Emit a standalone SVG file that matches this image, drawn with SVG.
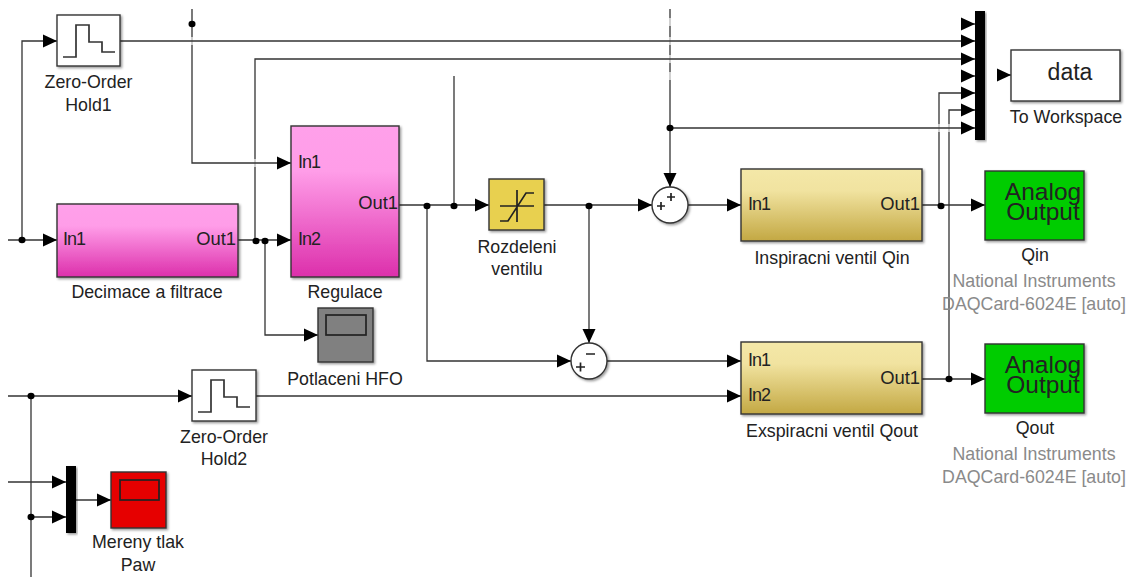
<svg xmlns="http://www.w3.org/2000/svg" width="1135" height="577" viewBox="0 0 1135 577">
<style>
text{font-family:"Liberation Sans",Arial,sans-serif;font-size:17.8px;fill:#222;text-anchor:middle}
.port{text-anchor:start;font-size:18px;letter-spacing:-1px}
.out{text-anchor:end;font-size:18.4px}
.grey{fill:#8a8a8a}
.w{fill:none;stroke:#333;stroke-width:1.3}
.b{stroke:#333;stroke-width:1.4;filter:url(#sh)}
.ic{fill:none;stroke:#222;stroke-width:1.7}
.big{font-size:24.5px}
.gap{fill:#fff;fill-opacity:.65;stroke:none}
</style>
<defs>
<filter id="sh" x="-10%" y="-10%" width="125%" height="125%"><feDropShadow dx="1.5" dy="1.5" stdDeviation="1" flood-color="#000" flood-opacity=".4"/></filter>
<linearGradient id="mag" x1="0" y1="0" x2="0" y2="1"><stop offset="0" stop-color="#ffa0ea"/><stop offset=".3" stop-color="#ff9de8"/><stop offset="1" stop-color="#dc2fab"/></linearGradient>
<linearGradient id="gold" x1="0" y1="0" x2="0" y2="1"><stop offset="0" stop-color="#f4e8a8"/><stop offset=".3" stop-color="#f1e3a0"/><stop offset="1" stop-color="#c3a843"/></linearGradient>
<marker id="a" markerUnits="userSpaceOnUse" markerWidth="14" markerHeight="14" refX="14" refY="7" orient="auto"><path d="M0 0.5L14 7L0 13.5z" fill="#000"/></marker>
<path id="zoh" d="M6 42H19V10H32V27H45V37H58" fill="none" stroke="#333" stroke-width="1.7"/>
</defs>
<g id="connectors" class="w">
<path d="M8 240H57" marker-end="url(#a)"/>
<path d="M22 240V41H57" marker-end="url(#a)"/>
<path d="M670 9V187" marker-end="url(#a)"/>
<path d="M939 205V93H975" marker-end="url(#a)"/>
<path d="M949 379V110H975" marker-end="url(#a)"/>
<rect class="gap" x="667" y="18" width="6" height="8"/><rect class="gap" x="667" y="37" width="6" height="8"/><rect class="gap" x="667" y="55" width="6" height="8"/><rect class="gap" x="667" y="72" width="6" height="8"/><rect class="gap" x="936" y="124" width="6" height="8"/><rect class="gap" x="946" y="124" width="6" height="8"/><rect class="gap" x="28" y="478" width="6" height="8"/>
<path d="M255 240V59H975" marker-end="url(#a)"/>
<rect class="gap" x="252" y="159" width="6" height="8"/>
<path d="M192 9V163H291" marker-end="url(#a)"/>
<rect class="gap" x="189" y="37" width="6" height="8"/>
<path d="M120 41H975" marker-end="url(#a)"/>
<path d="M238 240H291" marker-end="url(#a)"/>
<path d="M265 240V335H318" marker-end="url(#a)"/>
<path d="M399 205H489" marker-end="url(#a)"/>
<path d="M454 76V205"/>
<path d="M427 205V361H571" marker-end="url(#a)"/>
<path d="M544 205H652" marker-end="url(#a)"/>
<path d="M589 205V343" marker-end="url(#a)"/>
<path d="M670 128H975" marker-end="url(#a)"/>
<path d="M688 205H741" marker-end="url(#a)"/>
<path d="M922 205H985" marker-end="url(#a)"/>
<path d="M607 361H741" marker-end="url(#a)"/>
<path d="M8 396H192" marker-end="url(#a)"/>
<path d="M256 396H741" marker-end="url(#a)"/>
<path d="M922 379H985" marker-end="url(#a)"/>
<path d="M31 396V577"/>
<path d="M8 482H66" marker-end="url(#a)"/>
<path d="M31 517H66" marker-end="url(#a)"/>
<path d="M76 500H111" marker-end="url(#a)"/>
<path d="M961 24H975" marker-end="url(#a)"/>
<path d="M961 76H975" marker-end="url(#a)"/>
<path d="M997 75H1011" marker-end="url(#a)"/>
<g fill="#000" stroke="none">
<ellipse cx="22" cy="240" rx="3.500" ry="3.200"/><ellipse cx="192" cy="24" rx="3.500" ry="3.200"/><ellipse cx="256" cy="241" rx="3.500" ry="3.200"/><ellipse cx="265" cy="241" rx="3.500" ry="3.200"/><ellipse cx="427" cy="206" rx="3.500" ry="3.200"/><ellipse cx="454" cy="206" rx="3.500" ry="3.200"/><ellipse cx="589" cy="206" rx="3.500" ry="3.200"/><ellipse cx="670" cy="128" rx="3.500" ry="3.200"/><ellipse cx="941" cy="206" rx="3.500" ry="3.200"/><ellipse cx="949" cy="379" rx="3.500" ry="3.200"/><ellipse cx="31" cy="396" rx="3.500" ry="3.200"/><ellipse cx="31" cy="517" rx="3.500" ry="3.200"/>
</g>
</g>
<g id="zoh1"><rect class="b" x="57" y="15" width="63" height="51" fill="#fff"/><use href="#zoh" x="57" y="15"/><text x="88.500" y="88">Zero-Order</text><text x="88.500" y="111">Hold1</text></g>
<g id="decimace"><rect class="b" x="57" y="204" width="181" height="73" fill="url(#mag)"/><text class="port" x="63" y="245">In1</text><text class="out" x="236" y="245">Out1</text><text x="147" y="298">Decimace a filtrace</text></g>
<g id="regulace"><rect class="b" x="291" y="126" width="108" height="151" fill="url(#mag)"/><text class="port" x="298" y="168">In1</text><text class="port" x="298" y="245">In2</text><text class="out" x="398" y="209">Out1</text><text x="345" y="298">Regulace</text></g>
<g id="potlaceni"><rect class="b" x="318" y="308" width="55" height="54" fill="#808080"/><rect x="326" y="315" width="40" height="20" fill="none" stroke="#222" stroke-width="1.700"/><text x="345" y="385">Potlaceni HFO</text></g>
<g id="rozdeleni"><rect class="b" x="489" y="179" width="55" height="51" fill="#e8d050"/><path class="ic" d="M500 206H534M517 190V222M500 221H508L526 193H534"/><text x="517" y="253">Rozdeleni</text><text x="517" y="275">ventilu</text></g>
<g id="sum1"><circle class="b" cx="670" cy="205" r="18" fill="#fff"/><path class="ic" d="M657 206H665M661 202V210M667 197H675M671 193V201"/></g>
<g id="sum2"><circle class="b" cx="589" cy="361" r="18" fill="#fff"/><path class="ic" d="M576 367H585M580.500 362.500V371.500M586 354H595" stroke-width="2"/></g>
<g id="inspiracni"><rect class="b" x="741" y="169" width="181" height="72" fill="url(#gold)"/><text class="port" x="748" y="210">In1</text><text class="out" x="920" y="210">Out1</text><text x="832" y="264">Inspiracni ventil Qin</text></g>
<g id="exspiracni"><rect class="b" x="741" y="342" width="181" height="72" fill="url(#gold)"/><text class="port" x="748" y="366">In1</text><text class="port" x="748" y="401">In2</text><text class="out" x="920" y="384">Out1</text><text x="832" y="437">Exspiracni ventil Qout</text></g>
<g id="mux1"><rect x="975" y="11" width="10" height="129" fill="#000" filter="url(#sh)"/></g>
<g id="data"><rect class="b" x="1011" y="50" width="109" height="51" fill="#fff"/><text x="1070" y="80" style="font-size:23px">data</text><text x="1066" y="123">To Workspace</text></g>
<g id="qin"><rect class="b" x="985" y="171" width="99" height="69" fill="#00cc00"/><text class="big" x="1043" y="200">Analog</text><text class="big" x="1043" y="220">Output</text><text x="1035" y="261">Qin</text><text class="grey" x="1034" y="287">National Instruments</text><text class="grey" x="1034" y="310">DAQCard-6024E [auto]</text></g>
<g id="qout"><rect class="b" x="985" y="344" width="99" height="69" fill="#00cc00"/><text class="big" x="1043" y="373">Analog</text><text class="big" x="1043" y="393">Output</text><text x="1035" y="434">Qout</text><text class="grey" x="1034" y="460">National Instruments</text><text class="grey" x="1034" y="483">DAQCard-6024E [auto]</text></g>
<g id="zoh2"><rect class="b" x="192" y="370" width="64" height="51" fill="#fff"/><use href="#zoh" x="192" y="370"/><text x="224" y="443">Zero-Order</text><text x="224" y="465">Hold2</text></g>
<g id="mux2"><rect x="66" y="466" width="10" height="67" fill="#000" filter="url(#sh)"/></g>
<g id="paw"><rect class="b" x="111" y="472" width="55" height="56" fill="#e60000"/><rect x="120" y="480" width="39" height="20" fill="none" stroke="#222" stroke-width="1.700"/><text x="138" y="548">Mereny tlak</text><text x="138" y="571">Paw</text></g>
</svg>
